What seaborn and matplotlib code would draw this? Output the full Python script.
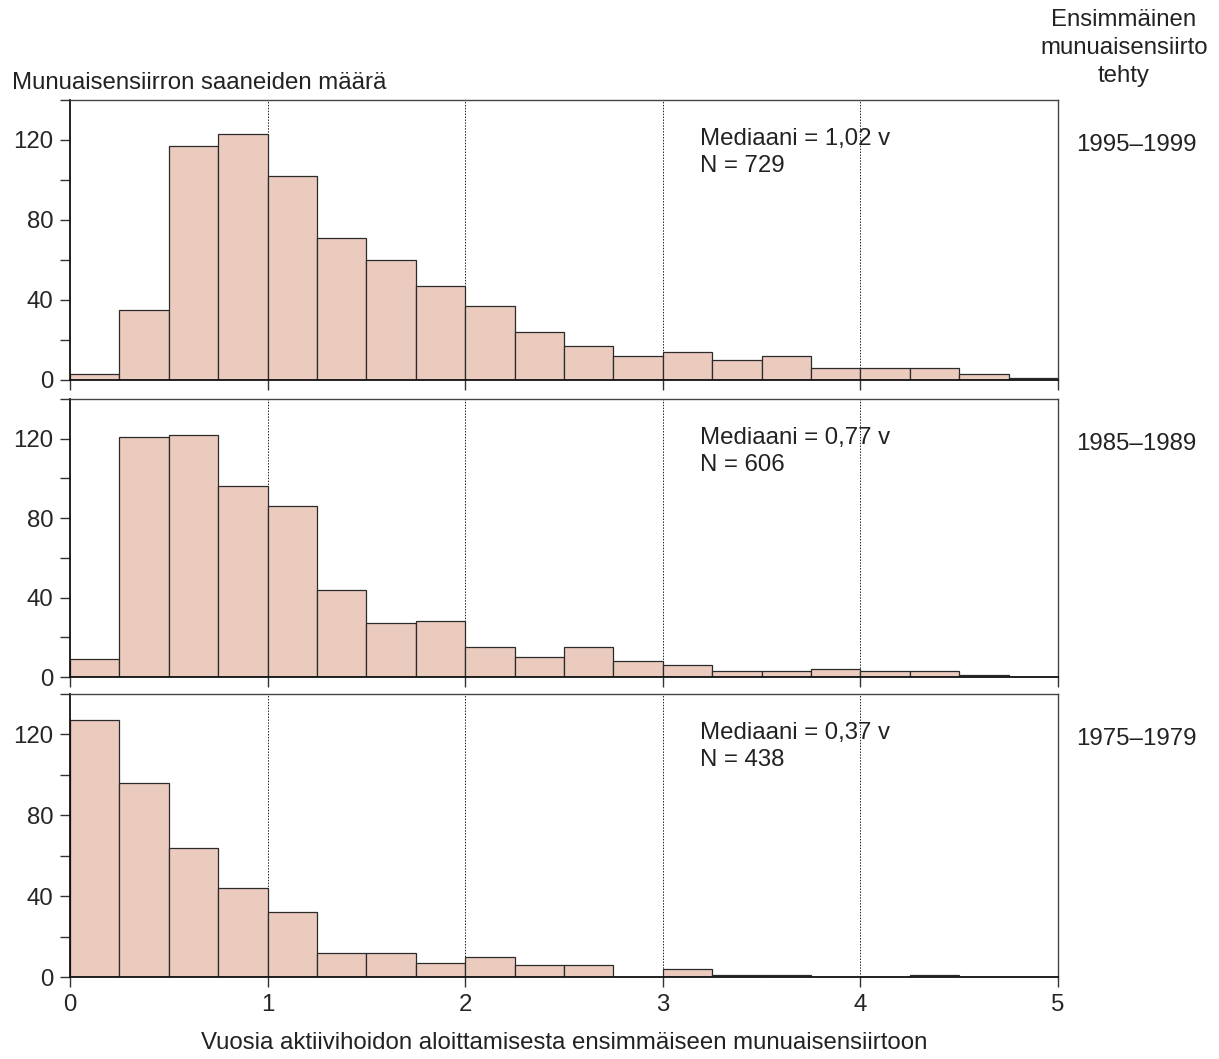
import numpy as np
import pandas as pd
import seaborn as sns
import matplotlib.pyplot as plt
from matplotlib.ticker import MultipleLocator

# bins of 0.25 years, 0..5
bin_left = [0.0, 0.25, 0.5, 0.75, 1.0, 1.25, 1.5, 1.75, 2.0, 2.25,
            2.5, 2.75, 3.0, 3.25, 3.5, 3.75, 4.0, 4.25, 4.5, 4.75]
counts_1995 = [3, 35, 117, 123, 102, 71, 60, 47, 37, 24,
               17, 12, 14, 10, 12, 6, 6, 6, 3, 1]
counts_1985 = [9, 121, 122, 96, 86, 44, 27, 28, 15, 10,
               15, 8, 6, 3, 3, 4, 3, 3, 1, 0]
counts_1975 = [127, 96, 64, 44, 32, 12, 12, 7, 10, 6,
               6, 0, 4, 1, 1, 0, 0, 1, 0, 0]
periods = ["1995–1999", "1985–1989", "1975–1979"]
medians = ["1,02", "0,77", "0,37"]
n_values = [729, 606, 438]

bin_width = 0.25
edges = bin_left + [5.0]

sns.set_style("ticks")
plt.rcParams["font.family"] = ["Liberation Sans", "DejaVu Sans"]
fs = 17.3

fill = "#eacbbe"
edge = "#2b2b2b"

fig = plt.figure(figsize=(12.19, 10.59), dpi=100)
boxes = [(0.6412, 0.9056), (0.3607, 0.6232), (0.0774, 0.3447)]
left, right = 0.0574, 0.868

all_counts = [counts_1995, counts_1985, counts_1975]
for i, (counts, (b, t)) in enumerate(zip(all_counts, boxes)):
    ax = fig.add_axes([left, b, right - left, t - b])
    df = pd.DataFrame({"vuodet": np.array(bin_left) + bin_width / 2,
                       "lkm": counts})
    sns.histplot(data=df, x="vuodet", weights="lkm", bins=edges, ax=ax,
                 color=fill, edgecolor=edge, linewidth=0.9, alpha=1,
                 zorder=2)
    for xv in [1, 2, 3, 4]:
        ax.axvline(xv, ls=(0, (1.5, 1.5)), color="#222222", lw=0.7, zorder=1)
    ax.set_xlim(0, 5)
    ax.set_ylim(0, 140)
    ax.yaxis.set_major_locator(MultipleLocator(40))
    ax.yaxis.set_minor_locator(MultipleLocator(20))
    ax.xaxis.set_major_locator(MultipleLocator(1))
    ax.tick_params(axis="both", which="both", direction="out", length=7,
                   width=1, color="#333333", labelsize=fs, pad=5)
    ax.set_ylabel("")
    ax.set_xlabel("")
    if i < 2:
        ax.tick_params(axis="x", labelbottom=False)
    for side in ["left", "bottom"]:
        ax.spines[side].set_color("#111111")
        ax.spines[side].set_linewidth(1.3)
    for side in ["top", "right"]:
        ax.spines[side].set_visible(True)
        ax.spines[side].set_color("#444444")
        ax.spines[side].set_linewidth(1.0)
    ax.text(3.19, 0.9, f"Mediaani = {medians[i]} v\nN = {n_values[i]}",
            transform=ax.get_xaxis_transform(), ha="left", va="top",
            fontsize=fs, linespacing=1.3, color="#222222", zorder=3)
    fig.text(1136 / 1219, b + (t - b) * 0.84, periods[i], ha="center",
             va="center", fontsize=fs, color="#222222")

fig.text(12 / 1219, 1 - 83 / 1059, "Munuaisensiirron saaneiden määrä",
         ha="left", va="center", fontsize=fs, color="#222222")
fig.text(1124 / 1219, 1 - 9 / 1059, "Ensimmäinen\nmunuaisensiirto\ntehty",
         ha="center", va="top", fontsize=fs, color="#222222",
         linespacing=1.35)
fig.text((left + right) / 2, 1 - 1043 / 1059,
         "Vuosia aktiivihoidon aloittamisesta ensimmäiseen munuaisensiirtoon",
         ha="center", va="center", fontsize=fs, color="#222222")

fig.savefig("out.png", dpi=100, facecolor="white")
